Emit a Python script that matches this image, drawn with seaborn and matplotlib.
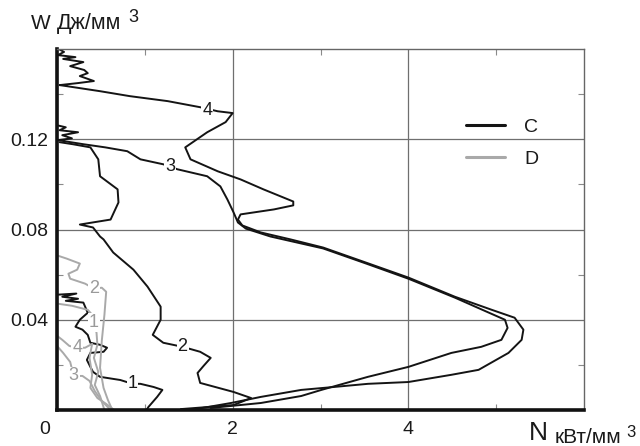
import numpy as np
import pandas as pd
import matplotlib
matplotlib.use("Agg")
import matplotlib.pyplot as plt
import matplotlib.transforms as mtransforms
from matplotlib.lines import Line2D
import seaborn as sns

# ---- series C (black) : specific power N vs. specific energy W ----
c1_n = [0.00, 0.22, 0.06, 0.24, 0.10, 0.30, 0.35, 0.26, 0.21, 0.29, 0.35, 0.38, 0.49, 0.57,
        0.53, 0.38, 0.34, 0.38, 0.41, 0.49, 0.72, 0.86, 0.95, 1.10, 1.20, 1.14, 1.04, 1.02]
c1_w = [0.0511, 0.0516, 0.0502, 0.0493, 0.0484, 0.0476, 0.0431, 0.0400, 0.0369, 0.0356, 0.0333,
        0.0298, 0.0289, 0.0276, 0.0258, 0.0253, 0.0222, 0.0191, 0.0169, 0.0147, 0.0133, 0.0116,
        0.0116, 0.0102, 0.0089, 0.0058, 0.0013, 0.0000]

c2_n = [0.03, 0.18, 0.38, 0.47, 0.49, 0.69, 0.70, 0.61, 0.26, 0.41, 0.49, 0.53, 0.64, 0.87,
        1.03, 1.18, 1.18, 1.09, 1.21, 1.43, 1.63, 1.75, 1.67, 1.60, 1.63, 2.01, 2.21, 2.01, 1.41]
c2_w = [0.1187, 0.1178, 0.1164, 0.1111, 0.1036, 0.0978, 0.0920, 0.0844, 0.0822, 0.0809, 0.0769,
        0.0756, 0.0698, 0.0622, 0.0547, 0.0458, 0.0400, 0.0333, 0.0298, 0.0280, 0.0258, 0.0231,
        0.0196, 0.0164, 0.0120, 0.0080, 0.0053, 0.0022, 0.0004]

c3_n = [0.00, 0.10, 0.03, 0.24, 0.06, 0.17, 0.01, 0.30, 0.55, 0.80, 0.95, 1.21, 1.37, 1.71,
        1.86, 1.94, 2.01, 2.06, 2.15, 2.43, 3.03, 3.52, 4.00, 4.53, 4.89, 5.10, 5.13, 5.06,
        4.83, 4.49, 4.00, 3.54, 3.01, 2.78, 2.32, 1.75]
c3_w = [0.1262, 0.1253, 0.1240, 0.1231, 0.1218, 0.1204, 0.1196, 0.1178, 0.1164, 0.1147, 0.1111,
        0.1089, 0.1067, 0.1036, 0.0991, 0.0933, 0.0876, 0.0831, 0.0804, 0.0769, 0.0716, 0.0649,
        0.0582, 0.0498, 0.0436, 0.0400, 0.0364, 0.0311, 0.0280, 0.0253, 0.0191, 0.0147, 0.0089,
        0.0062, 0.0031, 0.0009]

c4_n = [0.00, 0.08, 0.01, 0.21, 0.07, 0.30, 0.15, 0.31, 0.35, 0.26, 0.42, 0.24, 0.03, 0.10,
        0.49, 0.83, 1.26, 1.63, 1.83, 2.00, 1.92, 1.71, 1.46, 1.52, 1.83, 2.09, 2.35, 2.69,
        2.69, 2.47, 2.09, 2.06, 2.11, 2.32, 2.66, 3.03, 3.52, 4.00, 4.53, 4.95, 5.21, 5.31,
        5.29, 5.14, 4.80, 4.49, 4.00, 3.54, 3.15, 2.78, 2.32, 1.98, 1.58]
c4_w = [0.1604, 0.1587, 0.1573, 0.1564, 0.1556, 0.1542, 0.1524, 0.1507, 0.1493, 0.1480, 0.1458,
        0.1449, 0.1440, 0.1436, 0.1413, 0.1391, 0.1369, 0.1342, 0.1324, 0.1316, 0.1276, 0.1231,
        0.1164, 0.1111, 0.1058, 0.1022, 0.0978, 0.0924, 0.0907, 0.0889, 0.0867, 0.0844, 0.0818,
        0.0787, 0.0756, 0.0720, 0.0653, 0.0587, 0.0502, 0.0444, 0.0409, 0.0356, 0.0311, 0.0253,
        0.0178, 0.0156, 0.0124, 0.0116, 0.0102, 0.0089, 0.0058, 0.0031, 0.0004]

# ---- series D (grey) ----
d1_n = [0.01, 0.17, 0.35, 0.41, 0.42, 0.45, 0.46, 0.42, 0.47, 0.43, 0.49, 0.54]
d1_w = [0.0471, 0.0462, 0.0444, 0.0418, 0.0387, 0.0342, 0.0289, 0.0231, 0.0169, 0.0111, 0.0062, 0.0000]

d2_n = [0.01, 0.11, 0.26, 0.23, 0.13, 0.15, 0.32, 0.42, 0.51, 0.56, 0.54, 0.51, 0.49, 0.53, 0.58, 0.63]
d2_w = [0.0684, 0.0671, 0.0649, 0.0622, 0.0604, 0.0582, 0.0560, 0.0538, 0.0542, 0.0524, 0.0422,
        0.0307, 0.0187, 0.0098, 0.0044, 0.0000]

d3_n = [0.00, 0.07, 0.15, 0.19, 0.29, 0.37, 0.43, 0.51, 0.61]
d3_w = [0.0284, 0.0253, 0.0213, 0.0151, 0.0151, 0.0129, 0.0084, 0.0040, 0.0000]

d4_n = [0.00, 0.06, 0.14, 0.23, 0.32, 0.40, 0.37, 0.40, 0.38, 0.46, 0.56, 0.65]
d4_w = [0.0329, 0.0311, 0.0284, 0.0276, 0.0276, 0.0293, 0.0231, 0.0156, 0.0098, 0.0053, 0.0027, 0.0000]

series_names = ["C", "D"]
curve_ids = ["1", "2", "3", "4"]
x_ticks = [0, 2, 4]
y_ticks = [0.04, 0.08, 0.12]
y_tick_labels = ["0.04", "0.08", "0.12"]

# curve number tags: (series, tag, N, W)
tags = [
    ("C", "1", 0.86, 0.0116), ("C", "2", 1.43, 0.0280),
    ("C", "3", 1.29, 0.1080), ("C", "4", 1.71, 0.1326),
    ("D", "1", 0.42, 0.0387), ("D", "2", 0.42, 0.0538),
    ("D", "3", 0.19, 0.0151), ("D", "4", 0.23, 0.0276),
]

curves = {
    "C": [(c1_n, c1_w), (c2_n, c2_w), (c3_n, c3_w), (c4_n, c4_w)],
    "D": [(d1_n, d1_w), (d2_n, d2_w), (d3_n, d3_w), (d4_n, d4_w)],
}

frames = []
for s in series_names:
    for cid, (n, w) in zip(curve_ids, curves[s]):
        frames.append(pd.DataFrame({"N": n, "W": w, "series": s, "curve": s + cid}))
df = pd.concat(frames, ignore_index=True)

sns.set_theme(style="white")
plt.rcParams["font.family"] = ["Liberation Sans", "DejaVu Sans"]

colors = {"C": "#141414", "D": "#a9a9a9"}
ink = "#1a1a1a"

fig = plt.figure(figsize=(6.4, 4.46), dpi=100)
ax = fig.add_axes([57 / 640, 36 / 446, 527 / 640, 361 / 446])

sns.lineplot(data=df, x="N", y="W", hue="series", units="curve", estimator=None,
             sort=False, palette=colors, linewidth=1.4, legend=False, ax=ax)

for s, t, n, w in tags:
    ax.text(n, w, t, fontsize=13, color=ink if s == "C" else "#9a9a9a",
            ha="center", va="center", zorder=5,
            bbox=dict(facecolor="white", edgecolor="none", pad=0.6))

ax.set_xlim(0, 6)
ax.set_ylim(0, 0.16)
ax.set_xticks(x_ticks)
ax.set_xticklabels([str(v) for v in x_ticks])
ax.set_yticks(y_ticks)
ax.set_yticklabels(y_tick_labels)
ax.set_xticks([1, 3, 5], minor=True)
ax.set_yticks([0.02, 0.06, 0.10, 0.14], minor=True)
ax.set_xlabel("")
ax.set_ylabel("")

ax.grid(True, which="major", color="#6f6f6f", linewidth=0.9)
ax.set_axisbelow(True)
ax.tick_params(which="major", length=0, labelsize=14, colors=ink)
ax.tick_params(axis="x", which="major", pad=8)
ax.tick_params(axis="y", which="major", pad=6)
ax.tick_params(which="minor", direction="in", length=4, width=0.8, color="#8a8a8a",
               top=True, right=True, bottom=True, left=True)

for side in ("left", "bottom"):
    ax.spines[side].set_color("#111111")
    ax.spines[side].set_linewidth(2.6)
for side in ("top", "right"):
    ax.spines[side].set_color("#666666")
    ax.spines[side].set_linewidth(1.0)

# nudge the "0" label left of the origin
first = ax.get_xticklabels()[0]
first.set_transform(first.get_transform() +
                    mtransforms.ScaledTranslation(-12 / 100, 0, fig.dpi_scale_trans))

handles = [Line2D([], [], color=colors[s], linewidth=2.2) for s in series_names]
ax.legend(handles, series_names, loc="upper left", bbox_to_anchor=(0.776, 0.808),
          frameon=False, fontsize=14, handlelength=2.0, handletextpad=1.0,
          labelspacing=0.72, borderpad=0, borderaxespad=0, labelcolor=ink)

# axis titles
fig.text(31 / 640, 1 - 29 / 446, "W", fontsize=15, color=ink, va="baseline")
fig.text(57 / 640, 1 - 29 / 446, "Дж/мм", fontsize=15.5, color=ink, va="baseline")
fig.text(128 / 640, 1 - 22 / 446, "3", fontsize=13, color=ink, va="baseline")

fig.text(529 / 640, 1 - 445 / 446, "N", fontsize=19, color=ink, va="bottom")
fig.text(555 / 640, 1 - 443 / 446, "кВт/мм", fontsize=15, color=ink, va="baseline")
fig.text(626 / 640, 1 - 437 / 446, "3", fontsize=12, color=ink, va="baseline")

fig.savefig("out.png", dpi=100)
